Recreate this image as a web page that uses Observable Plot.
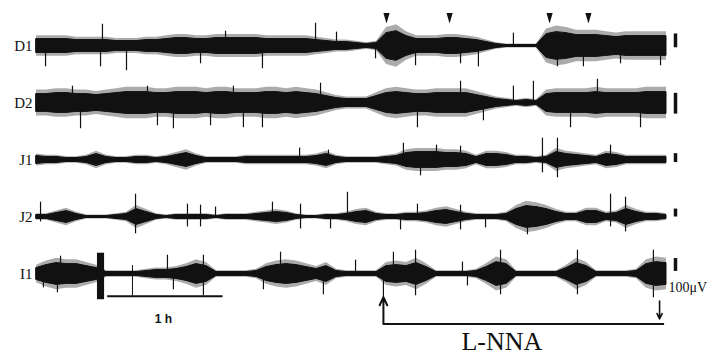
<!DOCTYPE html>
<html><head><meta charset="utf-8">
<script src="https://cdn.jsdelivr.net/npm/d3@7"></script>
<script src="https://cdn.jsdelivr.net/npm/@observablehq/plot@0.6"></script>
<style>html,body{margin:0;padding:0;background:#fff;}</style>
</head><body><div id="chart"></div>
<script>
// Channels (EMG recordings)
const channels = ["D1", "D2", "J1", "J2", "I1"];
// minutes between envelope readings
const sampleMinutes = 5.2;

// Envelope half-amplitude (display units)
const ampD1 = [7,7,7,7,6,6,6,6,5,5, 5,6,6,7,8,8,7,7,8,8, 8,8,8,7,7,7,7,7,6,5, 4,4,3,2,3,13,15,10,7,7, 7,8,8,7,6,4,2,1,1,1, 1,12,14,13,11,11,11,10,9,10, 10,10,10,10];
const ampD2 = [9,9,10,10,9,9,8,9,10,11, 11,11,10,10,11,11,11,10,11,11, 10,10,10,11,11,10,11,10,9,7, 5,4,4,4,7,10,11,10,9,9, 10,10,10,10,8,6,4,3,2,3, 2,9,10,10,10,10,11,10,10,10, 10,11,11,11];
const ampJ1 = [4,3,3,2,2,3,6,3,2,2, 3,3,2,3,5,7,4,2,2,2, 2,3,3,3,3,3,3,3,4,6, 3,2,2,2,2,3,4,7,8,8, 8,7,7,6,3,6,6,5,3,3, 2,3,8,6,5,4,3,6,5,3, 3,3,3,3];
const ampJ2 = [2,2,4,6,3,1,1,1,2,3, 8,5,2,1,2,2,2,2,1,2, 2,2,3,4,5,4,2,1,1,2, 2,3,5,6,3,2,2,3,3,4, 6,7,5,3,2,2,2,3,8,11, 10,8,5,3,3,6,6,3,4,8, 5,3,3,2];
const ampI1 = [6,9,11,10,10,8,6,2,2,2, 2,3,4,4,5,7,10,8,2,2, 2,2,3,7,9,10,9,7,5,8, 3,2,2,2,2,8,9,8,11,7, 2,2,2,2,3,7,12,10,2,2, 2,2,2,6,11,8,2,2,2,2, 3,10,12,11];

// Individual spikes: [minute, up, down]
const spikesD1 = [[4.7,0,21],[33.3,0,21],[34.3,22,0],[46.8,0,25],[85.3,0,18],[98.3,15,0],[117.5,0,23],[145.1,23,0],[156,14,0],[176.3,0,13],[197.1,0,20],[220.5,0,18],[229.8,0,21],[248,13,0],[270.9,0,21],[284.4,0,21],[303.7,0,18],[324.5,0,20]];
const spikesD2 = [[18.7,17,0],[22.9,0,26],[57.7,17,0],[62.9,0,23],[71.2,0,26],[90.5,0,23],[102.4,17,0],[107.6,0,25],[117.5,0,25],[147.7,20,0],[198.1,0,25],[220.5,22,0],[232.4,0,18],[248,17,0],[258.4,22,0],[277.7,0,25],[291.7,24,0],[314.1,0,25]];
const spikesJ1 = [[136.8,12,0],[151.8,10,0],[190.8,17,0],[199.7,0,16],[208,15,0],[220.5,14,0],[263.1,22,13],[270.9,22,18],[298.5,15,0]];
const spikesJ2 = [[2.1,15,5],[51.5,23,17],[78.5,13,10],[85.3,12,10],[93.1,10,0],[122.7,15,0],[137.3,13,12],[152.9,0,12],[161.7,25,0],[189.3,0,13],[198.1,13,0],[220.5,12,13],[233.5,0,11],[255.3,0,18],[298.5,23,10],[306.3,20,15]];
const spikesI1 = [[3.6,0,14],[10.9,0,19],[12.5,18,0],[68.1,19,0],[71.2,0,16],[86.8,19,22],[118,0,16],[126.9,22,0],[149.2,0,21],[165.9,14,0],[180.4,0,24],[185.6,22,0],[197.1,24,22],[221.5,12,0],[224.1,0,12],[241.3,24,21],[281.3,24,21],[320.8,24,24]];

// Large artifact on I1: [start minute, end minute, up, down]
const artifactI1 = [31.7, 35.4, 21, 26];

// Scale-bar heights (100 µV) per channel
const scaleBarHeights = [14, 21, 9, 8, 13];
const scaleLabel = "100\u03bcV";

// Arrowhead event markers above D1 (minutes)
const markerMinutes = [182, 214.8, 266.8, 287];

// Time bar (1 h) and L-NNA period (minutes)
const hourBarStart = 37, hourBarLength = 60, hourLabel = "1 h";
const hourTick = 49.9;
const drugStart = 180.4, drugEnd = 326.6, drugArrowEnd = 324, drugLabel = "L-NNA";

// ---- build tables ----
const amps = [ampD1, ampD2, ampJ1, ampJ2, ampI1];
const spikes = [spikesD1, spikesD2, spikesJ1, spikesJ2, spikesI1];
const traceRows = channels.flatMap((ch, k) => amps[k].map((a, i) => ({ch, t: i * sampleMinutes, a})));
const spikeRows = channels.flatMap((ch, k) => spikes[k].map(([t, up, dn]) => ({ch, t, up, dn})));
const tEnd = (ampD1.length - 1) * sampleMinutes;

// layout offsets of scale bars (bottom of bar, display units)
const barBase = {D1: -1.8, D2: -11.2, J1: -2.6, J2: 0, I1: 2.6};
const barRows = channels.map((ch, k) => ({ch, y1: barBase[ch], y2: barBase[ch] + scaleBarHeights[k]}));

const narrowDown = {
  draw(ctx, size) {
    const s = Math.sqrt(size);
    ctx.moveTo(-0.29 * s, -0.5 * s);
    ctx.lineTo(0.29 * s, -0.5 * s);
    ctx.lineTo(0, 0.5 * s);
    ctx.closePath();
  }
};

const I1 = [{ch: "I1"}];
const ink = "#111";
const fringe = 1.4; // visual spread of the noisy fringe around the dense core

const chart = Plot.plot({
  width: 712, height: 356,
  marginLeft: 36, marginRight: 46, marginTop: 15, marginBottom: 53,
  x: {domain: [0, tEnd], axis: null},
  y: {domain: [-28.8, 28.8], axis: null},
  fy: {domain: channels, padding: 0, axis: "left", tickSize: 0, tickPadding: 4, label: null},
  style: {fontFamily: "'Liberation Serif', 'Times New Roman', serif", fontSize: "15px", color: ink, background: "#fff"},
  marks: [
    Plot.areaY(traceRows, {x: "t", y1: d => -d.a * fringe - 0.5, y2: d => d.a * fringe + 0.5, fy: "ch", fill: "#444", fillOpacity: 0.45}),
    Plot.areaY(traceRows, {x: "t", y1: d => -d.a, y2: d => d.a, fy: "ch", fill: ink, stroke: ink, strokeWidth: 1}),
    Plot.ruleX(spikeRows, {x: "t", y1: d => -d.dn, y2: d => d.up, fy: "ch", stroke: ink, strokeWidth: 1.2}),
    Plot.rect([{ch: "I1", t0: artifactI1[0], t1: artifactI1[1], up: artifactI1[2], dn: artifactI1[3]}],
      {x1: "t0", x2: "t1", y1: d => -d.dn, y2: d => d.up, fy: "ch", fill: ink}),
    Plot.ruleX(barRows, {x: tEnd, dx: 9, y1: "y1", y2: "y2", fy: "ch", stroke: ink, strokeWidth: 3.5}),
    Plot.dot(markerMinutes.map(t => ({ch: "D1", t})), {x: "t", y: 28, fy: "ch", symbol: narrowDown, r: 6, fill: ink, stroke: "none"}),
    // 1 h time bar
    Plot.ruleY(I1, {x1: hourBarStart, x2: hourBarStart + hourBarLength, y: -22.4, fy: "ch", stroke: ink, strokeWidth: 2}),
    Plot.ruleX(I1, {x: hourTick, y1: -22.4, y2: 8.6, fy: "ch", stroke: ink, strokeWidth: 1}),
    Plot.text(I1, {x: hourBarStart + hourBarLength / 2 - 1, y: -45.4, fy: "ch", text: () => hourLabel,
      fontFamily: "'Liberation Sans', Arial, sans-serif", fontWeight: "bold", fontSize: 12, fill: ink}),
    // scale label
    Plot.text(I1, {x: tEnd, dx: 2, y: -14, fy: "ch", text: () => scaleLabel, textAnchor: "start", fontSize: 14, fill: ink}),
    // L-NNA period
    Plot.ruleY(I1, {x1: drugStart, x2: drugEnd, y: -50.4, fy: "ch", stroke: ink, strokeWidth: 2}),
    Plot.arrow(I1, {x1: drugStart, x2: drugStart, y1: -50.4, y2: -23.4, fy: "ch", stroke: ink, strokeWidth: 2, headLength: 8, headAngle: 50}),
    Plot.arrow(I1, {x1: drugArrowEnd, x2: drugArrowEnd, y1: -27.4, y2: -45.4, fy: "ch", stroke: ink, strokeWidth: 1.6, headLength: 7, headAngle: 50}),
    Plot.text(I1, {x: 242, y: -76.5, fy: "ch", text: () => drugLabel, lineAnchor: "bottom",
      fontSize: 26, fill: ink})
  ]
});
document.getElementById("chart").appendChild(chart);
</script>
</body></html>
